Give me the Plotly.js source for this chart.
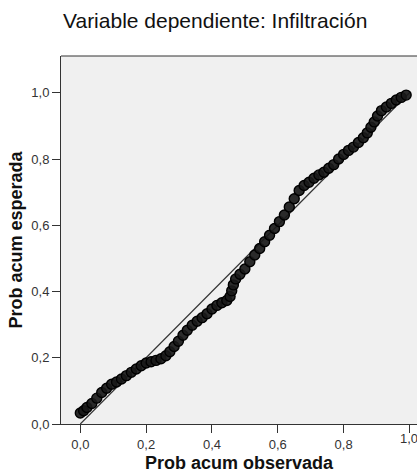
<!DOCTYPE html>
<html>
<head>
<meta charset="utf-8">
<script src="https://cdn.plot.ly/plotly-3.0.1.min.js"></script>
<style>html,body{margin:0;padding:0;background:#fff;}#chart{width:417px;height:473px;}</style>
</head>
<body>
<div id="chart"></div>
<script>
const probObservada = [0.000,0.010,0.020,0.035,0.050,0.065,0.080,0.095,0.110,0.125,0.140,0.155,0.170,0.185,0.200,0.215,0.230,0.245,0.260,0.272,0.285,0.298,0.312,0.325,0.340,0.355,0.370,0.385,0.400,0.415,0.430,0.445,0.455,0.460,0.465,0.472,0.485,0.500,0.515,0.530,0.545,0.560,0.575,0.590,0.605,0.620,0.635,0.650,0.665,0.680,0.695,0.710,0.725,0.740,0.755,0.770,0.785,0.800,0.815,0.830,0.845,0.860,0.872,0.883,0.893,0.903,0.915,0.930,0.945,0.960,0.975,0.990];
const probEsperada = [0.033,0.040,0.050,0.062,0.078,0.095,0.108,0.120,0.127,0.136,0.146,0.156,0.166,0.176,0.184,0.188,0.192,0.197,0.206,0.218,0.234,0.250,0.268,0.283,0.298,0.310,0.321,0.333,0.347,0.358,0.366,0.373,0.385,0.402,0.420,0.438,0.452,0.468,0.490,0.510,0.530,0.550,0.570,0.590,0.611,0.631,0.655,0.680,0.705,0.720,0.730,0.742,0.752,0.760,0.772,0.783,0.800,0.814,0.826,0.836,0.850,0.864,0.879,0.896,0.912,0.930,0.946,0.957,0.968,0.978,0.986,0.993];
// Reference diagonal
const diagX = [0, 1];
const diagY = [0, 1];
// Tick labels
const tickValues = [0, 0.2, 0.4, 0.6, 0.8, 1.0];
const tickLabels = ["0,0", "0,2", "0,4", "0,6", "0,8", "1,0"];

const font = "Liberation Sans, Arial, sans-serif";
const lastIdx = tickValues.length - 1;
// The last x tick label sits at the right edge of the page; it is drawn as an annotation so it is not dropped.
const xTickText = tickLabels.map((t, i) => (i === lastIdx ? "" : t));

const traces = [
  {
    x: diagX, y: diagY, type: "scatter", mode: "lines",
    line: {color: "#333333", width: 1.2},
    hoverinfo: "skip", showlegend: false
  },
  {
    x: probObservada, y: probEsperada, type: "scatter", mode: "markers",
    marker: {size: 10, color: "rgba(25,25,25,0.92)", line: {color: "#000000", width: 1.4}},
    showlegend: false
  }
];

const layout = {
  width: 417, height: 473,
  margin: {l: 61, r: 0, t: 56, b: 49, pad: 0},
  paper_bgcolor: "#ffffff",
  plot_bgcolor: "#f0f0f0",
  font: {family: font, size: 13, color: "#222222"},
  title: {
    text: "Variable dependiente: Infiltración",
    font: {family: font, size: 21, color: "#111111"},
    x: 0.516, xanchor: "center", xref: "container",
    y: 0.957, yanchor: "middle", yref: "container"
  },
  xaxis: {
    range: [-0.0587, 1.023],
    tickvals: tickValues, ticktext: xTickText,
    ticks: "outside", ticklen: 8, tickwidth: 1, tickcolor: "#333333",
    showline: true, linecolor: "#333333", linewidth: 1,
    showgrid: false, zeroline: false,
    tickfont: {family: font, size: 13, color: "#333333"},
    title: {text: "<b>Prob acum observada</b>", font: {family: font, size: 18, color: "#111111"}, standoff: 6}
  },
  yaxis: {
    range: [0, 1.111],
    tickvals: tickValues, ticktext: tickLabels,
    ticks: "outside", ticklen: 8, tickwidth: 1, tickcolor: "#333333",
    showline: true, linecolor: "#333333", linewidth: 1,
    showgrid: false, zeroline: false,
    tickfont: {family: font, size: 13, color: "#333333"},
    title: {text: "<b>Prob acum esperada</b>", font: {family: font, size: 18, color: "#111111"}, standoff: 4}
  },
  annotations: [
    {text: tickLabels[lastIdx], x: tickValues[lastIdx], xref: "x", y: 0, yref: "paper",
     yshift: -14, xanchor: "center", yanchor: "middle", showarrow: false,
     font: {family: font, size: 13, color: "#333333"}}
  ],
  shapes: [
    {type: "line", xref: "paper", yref: "paper", x0: 0, x1: 1, y0: 1, y1: 1,
     line: {color: "#333333", width: 1}}
  ]
};

Plotly.newPlot("chart", traces, layout, {displayModeBar: false, staticPlot: true});
</script>
</body>
</html>
